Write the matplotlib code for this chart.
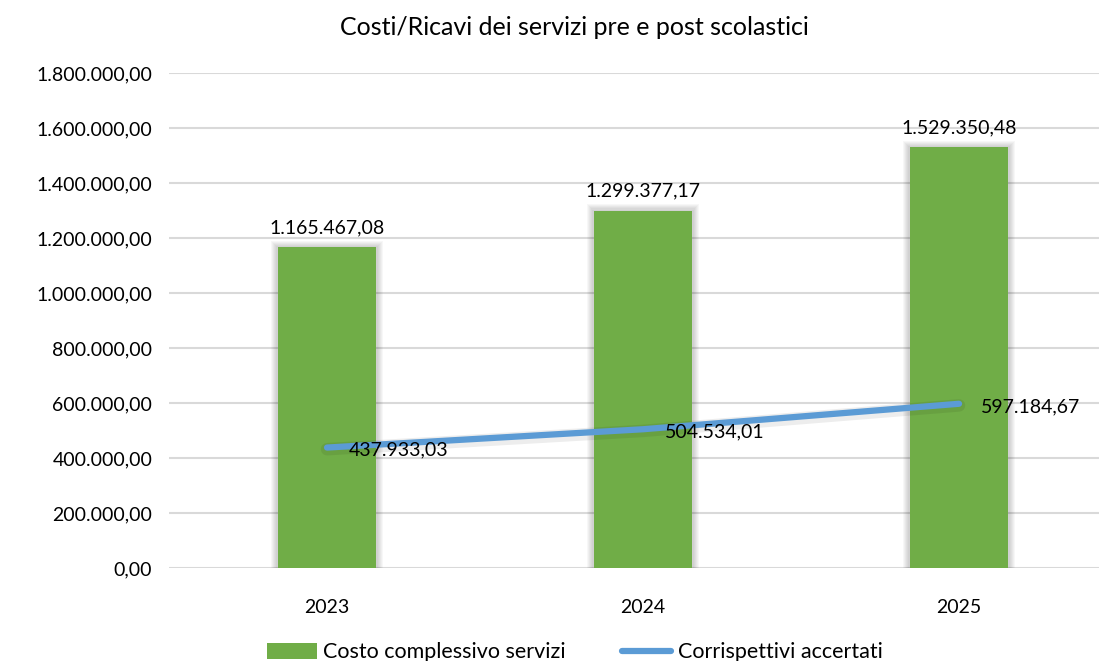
import matplotlib.pyplot as plt
import numpy as np

plt.rcParams['font.family'] = ['Lato', 'DejaVu Sans']

# data
anni = ["2023", "2024", "2025"]
costo = [1165467.08, 1299377.17, 1529350.48]
corrispettivi = [437933.03, 504534.01, 597184.67]
y_ticks = [0, 200000, 400000, 600000, 800000, 1000000, 1200000, 1400000, 1600000, 1800000]


# Italian number format: 1.234.567,89
def fmt_it(v):
    s = f"{v:,.2f}"
    return s.replace(",", "X").replace(".", ",").replace("X", ".")


green = "#70AD47"
blue = "#5B9BD5"
grid_col = "#D9D9D9"

fig = plt.figure(figsize=(10.99, 6.61), dpi=100)
ax = fig.add_axes([0.1538, 0.1407, 0.8626, 0.7489])

x = np.arange(len(anni))
bw = 0.313

# soft shadow behind bars
for k in range(6):
    ax.bar(x, [v + 4000 * (k + 1) for v in costo], width=bw + 0.007 * (k + 1),
           color="black", alpha=0.03, zorder=2)
bars = ax.bar(x, costo, width=bw, color=green, zorder=3, label="Costo complessivo servizi")

for xi, v in zip(x, costo):
    ax.annotate(fmt_it(v), (xi, v), xytext=(0, 8), textcoords="offset points",
                ha="center", va="bottom", fontsize=14, color="black")

# line with light shadow
ax.plot(x, [v - 6000 for v in corrispettivi], color="black", alpha=0.07, lw=9,
        solid_capstyle="round", zorder=4)
line, = ax.plot(x, corrispettivi, color=blue, lw=4.5, solid_capstyle="round", zorder=5,
                label="Corrispettivi accertati")

for xi, v in zip(x, corrispettivi):
    ax.annotate(fmt_it(v), (xi, v), xytext=(16, -2), textcoords="offset points",
                ha="left", va="center", fontsize=14, color="black", zorder=6)

ax.set_xlim(-0.5, len(anni) - 0.5)
ax.set_ylim(0, 1800000)
ax.set_yticks(y_ticks)
ax.set_yticklabels([fmt_it(t) for t in y_ticks], fontsize=14)
ax.set_xticks(x)
ax.set_xticklabels(anni, fontsize=14)
ax.tick_params(axis="both", length=0)
ax.tick_params(axis="y", pad=12)
ax.tick_params(axis="x", pad=22)
ax.yaxis.grid(True, color=grid_col, lw=1.5, zorder=0)
ax.set_axisbelow(True)
for sp in ax.spines.values():
    sp.set_visible(False)

fig.text(0.523, 0.958, "Costi/Ricavi dei servizi pre e post scolastici",
         ha="center", va="center", fontsize=18)

leg = fig.legend([bars, line], ["Costo complessivo servizi", "Corrispettivi accertati"],
                 loc="center", bbox_to_anchor=(0.523, 0.013), ncol=2, frameon=False,
                 fontsize=15.5, handlelength=2.3, handleheight=0.8, columnspacing=2.6,
                 handletextpad=0.3)

fig.savefig("out.png", dpi=100)
